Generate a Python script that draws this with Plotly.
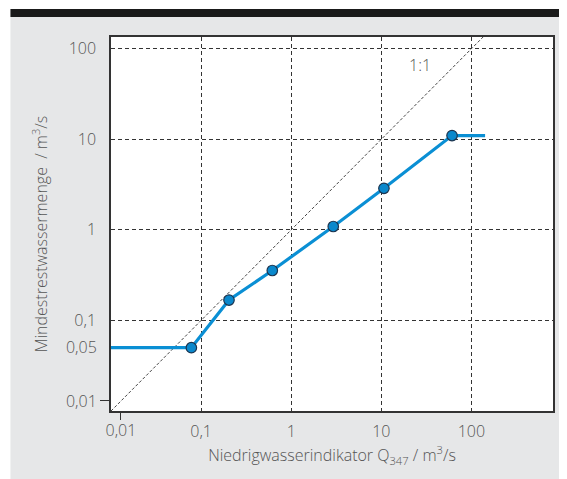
import plotly.graph_objects as go

# Data
q347 = [0.01, 0.078, 0.204, 0.617, 2.93, 10.7, 61, 142]
q_min = [0.05, 0.05, 0.168, 0.356, 1.09, 2.88, 11, 11]
marker_x = [0.078, 0.204, 0.617, 2.93, 10.7, 61]
marker_y = [0.05, 0.168, 0.356, 1.09, 2.88, 11]
diag = [0.01, 1000]

x_grid_vals = [0.1, 1, 10, 100]
x_grid_text = ["0,1", "1", "10", "100"]
y_grid_vals = [0.1, 1, 10, 100]
y_grid_text = ["0,1", "1", "10", "100"]
low_tick_val = 0.0129
low_tick_text = "0,01"
y_extra_val = 0.05
y_extra_text = "0,05"

x_title = "Niedrigwasserindikator Q<sub>347</sub> / m<sup>3</sup>/s"
y_title = "Mindestrestwassermenge  / m<sup>3</sup>/s"

FONT = "Open Sans"
TXT = "#555555"
GRID = "#333333"
BLUE = "#0a8fd4"

fig = go.Figure()
fig.add_trace(go.Scatter(x=diag, y=diag, mode="lines",
                         line=dict(color="#444444", width=1, dash="3px,2px"),
                         hoverinfo="skip", showlegend=False))
fig.add_trace(go.Scatter(x=q347, y=q_min, mode="lines",
                         line=dict(color=BLUE, width=3.2), showlegend=False))
fig.add_trace(go.Scatter(x=marker_x, y=marker_y, mode="markers",
                         marker=dict(color="#0a88cc", size=10.5,
                                     line=dict(color="#1c3550", width=1.2)),
                         showlegend=False))

# page has an 8px body margin; figure coordinates are offset by it
OFF = 8
L, R, T, B = 103, 12, 29, 68
W, H = 559, 471
pw, ph = W - L - R, H - T - B
def px(v):  # page pixel x -> paper
    return (v - OFF - L) / pw
def py(v):  # page pixel y -> paper
    return (H - B - (v - OFF)) / ph

xr = [-2, 2.906]
yr = [-2, 2.13]
font = dict(family=FONT, size=16, color=TXT, weight=300)
tfont = dict(family=FONT, size=16, color=TXT, weight=300)

fig.update_layout(
    width=W, height=H,
    margin=dict(l=L, r=R, t=T, b=B),
    paper_bgcolor="#e6e7e8",
    plot_bgcolor="white",
    font=font,
    xaxis=dict(type="log", range=xr, tickvals=x_grid_vals, ticktext=x_grid_text,
               showgrid=True, gridcolor=GRID, griddash="4px,3px", gridwidth=1,
               ticks="outside", ticklen=8, tickcolor="rgba(0,0,0,0)",
               ticklabelstandoff=-3,
               showline=True, mirror=True, linecolor="#333333", linewidth=1.5,
               zeroline=False, tickfont=font,
               title=dict(text=x_title, font=tfont, standoff=9)),
    yaxis=dict(type="log", range=yr, tickvals=y_grid_vals, ticktext=y_grid_text,
               showgrid=True, gridcolor=GRID, griddash="4px,3px", gridwidth=1,
               ticks="outside", ticklen=10, tickcolor="rgba(0,0,0,0)",
               showline=True, mirror=True, linecolor="#333333", linewidth=1.5,
               zeroline=False, tickfont=font),
    xaxis2=dict(type="log", range=xr, overlaying="x", side="bottom",
                tickvals=[low_tick_val], ticktext=[low_tick_text],
                ticks="outside", ticklen=8, tickcolor="#333333", tickwidth=1,
                ticklabelstandoff=-3,
                showgrid=False, showline=False, zeroline=False, tickfont=font),
    yaxis2=dict(type="log", range=yr, overlaying="y", side="left",
                tickvals=[low_tick_val], ticktext=[low_tick_text],
                ticks="outside", ticklen=10, tickcolor="#333333", tickwidth=1,
                showgrid=False, showline=False, zeroline=False, tickfont=font),
    yaxis3=dict(type="log", range=yr, overlaying="y", side="left",
                tickvals=[y_extra_val], ticktext=[y_extra_text],
                ticks="outside", ticklen=10, tickcolor="rgba(0,0,0,0)",
                showgrid=False, showline=False, zeroline=False, tickfont=font),
    annotations=[
        dict(x=1.43, y=1.816, xref="x", yref="y", text="1:1",
             showarrow=False, font=dict(family=FONT, size=16, color="#555555", weight=300)),
        dict(x=px(40), y=py(234), xref="paper", yref="paper", text=y_title,
             textangle=-90, showarrow=False, xanchor="center", yanchor="middle",
             font=tfont),
    ],
    shapes=[
        dict(type="rect", xref="paper", yref="paper", x0=px(-5), x1=px(10),
             y0=py(H + OFF + 5), y1=py(-5), fillcolor="white", line=dict(width=0), layer="below"),
        dict(type="rect", xref="paper", yref="paper", x0=px(-5), x1=px(W + OFF + 5),
             y0=py(9), y1=py(-5), fillcolor="white", line=dict(width=0), layer="below"),
        dict(type="rect", xref="paper", yref="paper", x0=px(10), x1=px(W + OFF + 5),
             y0=py(17), y1=py(9), fillcolor="#1a1a1a", line=dict(width=0), layer="below"),
    ],
)
# invisible traces to activate overlay axes
fig.add_trace(go.Scatter(x=[1], y=[1], xaxis="x2", yaxis="y2", mode="markers",
                         marker=dict(opacity=0), hoverinfo="skip", showlegend=False))
fig.add_trace(go.Scatter(x=[1], y=[1], xaxis="x", yaxis="y3", mode="markers",
                         marker=dict(opacity=0), hoverinfo="skip", showlegend=False))

fig.write_html("out.html")
